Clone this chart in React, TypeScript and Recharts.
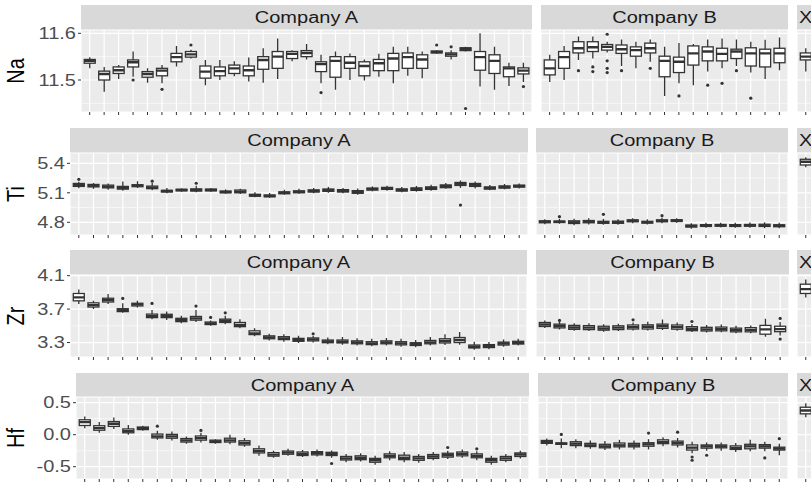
import React from 'react';
import { ComposedChart, Bar, XAxis, YAxis, CartesianGrid } from 'recharts';

type Stat = [number, number, number, number, number];
type Outs = Record<number, number[]>;

const FONT = "'Liberation Sans', Arial, Helvetica, sans-serif";

// ---------- categories ----------
const catsA = ['A01','A02','A03','A04','A05','A06','A07','A08','A09','A10','A11','A12','A13','A14','A15','A16','A17','A18','A19','A20','A21','A22','A23','A24','A25','A26','A27','A28','A29','A30','A31'];
const catsB = ['B01','B02','B03','B04','B05','B06','B07','B08','B09','B10','B11','B12','B13','B14','B15','B16','B17'];
const catsX = ['X'];
const facetNames = ['Company A', 'Company B', 'X'];

// ---------- Na ----------
const naA: Stat[] = [
  [11.525,11.536,11.541,11.544,11.549],[11.475,11.500,11.513,11.519,11.528],[11.502,11.514,11.521,11.528,11.532],
  [11.507,11.528,11.538,11.543,11.561],[11.494,11.506,11.513,11.518,11.525],[11.493,11.509,11.520,11.525,11.532],
  [11.529,11.539,11.549,11.557,11.573],[11.546,11.549,11.555,11.561,11.565],[11.489,11.504,11.518,11.530,11.543],
  [11.500,11.509,11.519,11.528,11.543],[11.508,11.514,11.525,11.532,11.540],[11.497,11.509,11.521,11.530,11.548],
  [11.494,11.523,11.543,11.550,11.568],[11.502,11.525,11.550,11.561,11.589],[11.540,11.546,11.556,11.561,11.564],
  [11.544,11.550,11.558,11.563,11.577],[11.493,11.518,11.534,11.539,11.554],[11.479,11.506,11.541,11.550,11.561],
  [11.500,11.525,11.537,11.550,11.557],[11.499,11.509,11.530,11.539,11.544],[11.507,11.520,11.536,11.544,11.556],
  [11.493,11.520,11.546,11.557,11.571],[11.509,11.525,11.549,11.558,11.571],[11.504,11.525,11.544,11.554,11.561],
  [11.556,11.558,11.560,11.562,11.564],[11.544,11.551,11.555,11.558,11.564],[11.561,11.563,11.567,11.569,11.571],
  [11.486,11.521,11.549,11.561,11.600],[11.479,11.514,11.541,11.554,11.571],[11.487,11.507,11.525,11.528,11.537],
  [11.496,11.513,11.520,11.526,11.537],
];
const naAOut: Outs = { 4: [11.500], 6: [11.480], 8: [11.575], 17: [11.473], 25: [11.575], 26: [11.571], 27: [11.439], 31: [11.486] };
const naB: Stat[] = [
  [11.496,11.511,11.525,11.543,11.554],[11.500,11.525,11.549,11.561,11.573],[11.543,11.558,11.568,11.582,11.593],
  [11.546,11.561,11.570,11.582,11.593],[11.559,11.564,11.571,11.576,11.582],[11.530,11.557,11.566,11.575,11.587],
  [11.525,11.551,11.564,11.571,11.582],[11.539,11.558,11.568,11.579,11.587],[11.466,11.507,11.541,11.551,11.571],
  [11.493,11.516,11.539,11.549,11.579],[11.489,11.532,11.557,11.573,11.577],[11.518,11.541,11.561,11.571,11.587],
  [11.525,11.541,11.556,11.568,11.589],[11.530,11.546,11.561,11.566,11.587],[11.516,11.530,11.557,11.569,11.582],
  [11.502,11.528,11.557,11.566,11.586],[11.521,11.537,11.557,11.568,11.591],
];
const naBOut: Outs = { 3: [11.520], 4: [11.528, 11.518], 5: [11.598, 11.541, 11.525, 11.516], 6: [11.520], 8: [11.525], 10: [11.466], 12: [11.489], 13: [11.493], 14: [11.520], 15: [11.461] };
const naX: Stat[] = [[11.518,11.543,11.550,11.558,11.568]];

// ---------- Ti ----------
const tiA: Stat[] = [
  [5.146,5.165,5.179,5.195,5.213],[5.140,5.160,5.172,5.185,5.200],[5.130,5.150,5.162,5.178,5.195],
  [5.120,5.138,5.148,5.165,5.215],[5.148,5.162,5.172,5.182,5.218],[5.125,5.142,5.152,5.168,5.200],
  [5.095,5.108,5.118,5.125,5.150],[5.112,5.120,5.128,5.136,5.145],[5.105,5.118,5.128,5.140,5.172],
  [5.110,5.120,5.128,5.138,5.150],[5.090,5.100,5.108,5.118,5.135],[5.088,5.100,5.111,5.128,5.140],
  [5.055,5.065,5.075,5.085,5.105],[5.050,5.060,5.067,5.078,5.098],[5.080,5.090,5.100,5.110,5.130],
  [5.090,5.100,5.110,5.120,5.140],[5.095,5.108,5.118,5.130,5.150],[5.100,5.115,5.128,5.138,5.160],
  [5.095,5.108,5.120,5.132,5.150],[5.080,5.095,5.108,5.122,5.145],[5.115,5.128,5.138,5.148,5.165],
  [5.120,5.135,5.145,5.155,5.172],[5.105,5.118,5.128,5.140,5.160],[5.112,5.125,5.138,5.150,5.170],
  [5.120,5.135,5.148,5.160,5.182],[5.140,5.152,5.168,5.180,5.200],[5.150,5.175,5.192,5.205,5.225],
  [5.145,5.165,5.180,5.195,5.215],[5.125,5.138,5.148,5.160,5.180],[5.135,5.148,5.158,5.170,5.190],
  [5.145,5.158,5.168,5.178,5.195],
];
const tiAOut: Outs = { 1: [5.237], 6: [5.218], 9: [5.197], 27: [4.975] };
const tiB: Stat[] = [
  [4.780,4.795,4.806,4.815,4.830],[4.785,4.798,4.806,4.812,4.835],[4.770,4.788,4.800,4.815,4.835],
  [4.778,4.795,4.806,4.818,4.840],[4.775,4.790,4.800,4.810,4.835],[4.775,4.790,4.800,4.812,4.830],
  [4.790,4.805,4.815,4.825,4.840],[4.778,4.792,4.800,4.810,4.830],[4.790,4.805,4.815,4.825,4.845],
  [4.795,4.808,4.818,4.826,4.840],[4.735,4.752,4.762,4.772,4.790],[4.745,4.758,4.768,4.776,4.795],
  [4.748,4.760,4.770,4.778,4.795],[4.745,4.758,4.768,4.776,4.795],[4.745,4.760,4.770,4.778,4.798],
  [4.740,4.758,4.768,4.780,4.800],[4.740,4.755,4.765,4.775,4.795],
];
const tiBOut: Outs = { 2: [4.857], 5: [4.881], 9: [4.867] };
const tiX: Stat[] = [[5.359,5.383,5.416,5.441,5.461]];

// ---------- Zr ----------
const zrA: Stat[] = [
  [3.760,3.799,3.840,3.887,3.935],[3.700,3.725,3.748,3.775,3.800],[3.760,3.785,3.807,3.830,3.880],
  [3.655,3.670,3.688,3.705,3.770],[3.720,3.738,3.756,3.770,3.800],[3.580,3.598,3.616,3.640,3.690],
  [3.570,3.598,3.616,3.638,3.670],[3.530,3.550,3.569,3.590,3.620],[3.545,3.568,3.589,3.612,3.690],
  [3.500,3.515,3.529,3.545,3.565],[3.520,3.540,3.560,3.580,3.620],[3.470,3.490,3.509,3.540,3.580],
  [3.375,3.395,3.410,3.440,3.470],[3.325,3.345,3.362,3.380,3.405],[3.310,3.335,3.350,3.370,3.400],
  [3.295,3.315,3.330,3.350,3.380],[3.300,3.320,3.338,3.355,3.380],[3.280,3.298,3.312,3.330,3.360],
  [3.275,3.295,3.310,3.330,3.365],[3.265,3.285,3.300,3.320,3.350],[3.255,3.275,3.290,3.310,3.345],
  [3.265,3.285,3.300,3.320,3.355],[3.250,3.272,3.290,3.310,3.345],[3.245,3.265,3.280,3.298,3.330],
  [3.265,3.285,3.302,3.325,3.365],[3.270,3.295,3.318,3.345,3.400],[3.275,3.300,3.330,3.360,3.425],
  [3.215,3.235,3.250,3.270,3.310],[3.220,3.240,3.258,3.275,3.305],[3.250,3.270,3.288,3.305,3.335],
  [3.265,3.282,3.298,3.315,3.345],
];
const zrAOut: Outs = { 4: [3.828], 6: [3.768], 9: [3.736], 10: [3.601], 11: [3.656], 17: [3.405] };
const zrB: Stat[] = [
  [3.475,3.492,3.515,3.540,3.565],[3.455,3.475,3.498,3.520,3.545],[3.440,3.458,3.480,3.505,3.530],
  [3.438,3.455,3.478,3.502,3.530],[3.430,3.448,3.468,3.495,3.520],[3.438,3.455,3.478,3.500,3.525],
  [3.445,3.462,3.485,3.510,3.540],[3.445,3.462,3.488,3.512,3.550],[3.450,3.470,3.495,3.520,3.575],
  [3.442,3.460,3.485,3.510,3.540],[3.425,3.442,3.465,3.490,3.520],[3.420,3.438,3.458,3.482,3.510],
  [3.422,3.440,3.460,3.485,3.515],[3.410,3.428,3.448,3.472,3.500],[3.410,3.428,3.452,3.478,3.505],
  [3.370,3.400,3.457,3.505,3.585],[3.385,3.430,3.461,3.495,3.545],
];
const zrBOut: Outs = { 2: [3.565], 7: [3.572], 11: [3.552], 17: [3.589, 3.342] };
const zrX: Stat[] = [[3.840,3.887,3.939,3.998,4.055]];

// ---------- Hf ----------
const hfA: Stat[] = [
  [0.102,0.144,0.196,0.233,0.284],[0.030,0.070,0.102,0.140,0.200],[0.090,0.130,0.171,0.205,0.270],
  [0.000,0.030,0.056,0.090,0.150],[0.060,0.080,0.102,0.120,0.140],[-0.080,-0.050,-0.026,0.010,0.060],
  [-0.090,-0.055,-0.026,0.005,0.050],[-0.140,-0.115,-0.089,-0.060,-0.030],[-0.120,-0.085,-0.053,-0.020,0.030],
  [-0.140,-0.122,-0.104,-0.085,-0.070],[-0.150,-0.115,-0.089,-0.055,0.000],[-0.190,-0.160,-0.130,-0.095,-0.050],
  [-0.330,-0.285,-0.255,-0.220,-0.170],[-0.360,-0.335,-0.311,-0.280,-0.250],[-0.330,-0.305,-0.280,-0.255,-0.220],
  [-0.350,-0.325,-0.300,-0.270,-0.240],[-0.340,-0.315,-0.290,-0.265,-0.230],[-0.360,-0.325,-0.300,-0.275,-0.245],
  [-0.430,-0.395,-0.370,-0.340,-0.300],[-0.420,-0.390,-0.360,-0.330,-0.290],[-0.470,-0.430,-0.400,-0.370,-0.330],
  [-0.400,-0.360,-0.330,-0.300,-0.260],[-0.430,-0.390,-0.360,-0.320,-0.270],[-0.440,-0.400,-0.370,-0.340,-0.300],
  [-0.400,-0.370,-0.340,-0.310,-0.270],[-0.380,-0.350,-0.320,-0.290,-0.250],[-0.360,-0.330,-0.300,-0.270,-0.230],
  [-0.400,-0.360,-0.330,-0.300,-0.260],[-0.470,-0.430,-0.400,-0.370,-0.330],[-0.430,-0.400,-0.370,-0.340,-0.300],
  [-0.370,-0.340,-0.310,-0.285,-0.250],
];
const hfAOut: Outs = { 6: [0.134], 9: [0.067], 18: [-0.450], 26: [-0.200], 28: [-0.220] };
const hfB: Stat[] = [
  [-0.170,-0.135,-0.114,-0.090,-0.060],[-0.210,-0.150,-0.140,-0.128,-0.060],[-0.210,-0.170,-0.140,-0.110,-0.070],
  [-0.220,-0.185,-0.166,-0.135,-0.090],[-0.240,-0.205,-0.182,-0.150,-0.100],[-0.230,-0.190,-0.166,-0.130,-0.080],
  [-0.230,-0.190,-0.166,-0.135,-0.090],[-0.230,-0.180,-0.150,-0.125,-0.070],[-0.180,-0.140,-0.114,-0.080,-0.040],
  [-0.200,-0.160,-0.130,-0.100,-0.050],[-0.290,-0.240,-0.202,-0.160,-0.110],[-0.250,-0.210,-0.182,-0.160,-0.120],
  [-0.250,-0.205,-0.182,-0.160,-0.120],[-0.270,-0.230,-0.208,-0.175,-0.130],[-0.260,-0.220,-0.182,-0.150,-0.080],
  [-0.260,-0.210,-0.182,-0.155,-0.110],[-0.320,-0.240,-0.217,-0.195,-0.140],
];
const hfBOut: Outs = { 2: [0.005], 8: [0.025], 10: [0.040], 11: [-0.348, -0.399], 12: [-0.321], 16: [-0.363], 17: [-0.062] };
const hfX: Stat[] = [[0.273,0.326,0.377,0.429,0.491]];

// ---------- axis ticks ----------
const naTicks = [11.5, 11.6];
const naMinor = [11.45, 11.55];
const tiTicks = [4.8, 5.1, 5.4];
const tiMinor = [4.95, 5.25];
const zrTicks = [3.3, 3.7, 4.1];
const zrMinor = [3.5, 3.9];
const hfTicks = [-0.5, 0.0, 0.5];
const hfMinor = [-0.25, 0.25];

type BoxRow = { cat: string; lo: number; q1: number; med: number; q3: number; hi: number; out: number[] };

function build(cats: string[], stats: Stat[], outs: Outs): BoxRow[] {
  return cats.map((c, i) => ({
    cat: c, lo: stats[i][0], q1: stats[i][1], med: stats[i][2], q3: stats[i][3], hi: stats[i][4],
    out: outs[i + 1] || [],
  }));
}

const rangeOf = (d: BoxRow) => [d.lo, d.hi];

const BoxShape = (props: any) => {
  const { x, y, width, height, payload } = props;
  if (!payload || x == null || y == null) return <g />;
  const top = Math.min(y, y + height);
  const bot = Math.max(y, y + height);
  const { lo, hi, q1, q3, med, out } = payload as BoxRow;
  const toY = (v: number) => top + ((hi - v) / (hi - lo)) * (bot - top);
  const cx = x + width / 2;
  return (
    <g>
      <line x1={cx} x2={cx} y1={top} y2={bot} stroke="#333333" strokeWidth={1.3} />
      <rect x={x} y={toY(q3)} width={width} height={Math.max(0.5, toY(q1) - toY(q3))} fill="#FFFFFF" stroke="#333333" strokeWidth={1.3} />
      <line x1={x} x2={x + width} y1={toY(med)} y2={toY(med)} stroke="#333333" strokeWidth={2.4} />
      {out.map((o, k) => (
        <circle key={k} cx={cx} cy={toY(o)} r={1.6} fill="#333333" />
      ))}
    </g>
  );
};

const EmptyTick = () => <g />;

const YTick = (props: any) => {
  const { x, y, payload } = props;
  return (
    <g transform={`translate(${x},${y})`}>
      <text transform="scale(1.25,1)" textAnchor="end" dy="0.36em" fontSize={16} fill="#4D4D4D" fontFamily={FONT}>
        {Number(payload.value).toFixed(1)}
      </text>
    </g>
  );
};

type PanelProps = {
  data: BoxRow[]; left: number; right: number; top: number; bottom: number;
  domain: [number, number]; ticks: number[]; minors: number[]; axisW?: number;
};

const TOPPAD = 10;
const XAXH = 5;

function Panel({ data, left, right, top, bottom, domain, ticks, minors, axisW = 0 }: PanelProps) {
  const w = right - left;
  const h = bottom - top;
  const step = w / (data.length + 0.2);
  const pad = step * 0.1;
  return (
    <div style={{ position: 'absolute', left: left - axisW, top: top - TOPPAD }}>
      <ComposedChart
        width={w + axisW}
        height={h + TOPPAD + XAXH}
        data={data}
        margin={{ top: TOPPAD, right: 0, bottom: 0, left: 0 }}
        barCategoryGap="12.5%"
      >
        <CartesianGrid fill="#EBEBEB" fillOpacity={1} stroke="#FFFFFF" strokeWidth={0.6} vertical={false} horizontalValues={minors} />
        <CartesianGrid stroke="#FFFFFF" strokeWidth={1.2} />
        <XAxis
          dataKey="cat" type="category" padding={{ left: pad, right: pad }} interval={0}
          tick={EmptyTick} tickLine={{ stroke: '#333333', strokeWidth: 1 }} tickSize={3}
          axisLine={false} height={XAXH}
        />
        <YAxis
          type="number" domain={domain} ticks={ticks} allowDataOverflow interval={0}
          hide={!axisW} width={axisW || 1} tick={YTick}
          tickLine={{ stroke: '#333333', strokeWidth: 1 }} tickSize={3} tickMargin={2} axisLine={false}
        />
        <Bar dataKey={rangeOf as any} shape={BoxShape} isAnimationActive={false} />
      </ComposedChart>
    </div>
  );
}

type RowDef = {
  title: string; stripTop: number; top: number; bottom: number;
  aL: number; aR: number; bL: number; bR: number; xL: number; xR: number;
  domain: [number, number]; ticks: number[]; minors: number[];
  a: BoxRow[]; b: BoxRow[]; x: BoxRow[];
};

const rows: RowDef[] = [
  { title: 'Na', stripTop: 5, top: 30, bottom: 112, aL: 81, aR: 532, bL: 541, bR: 788, xL: 797, xR: 814.5,
    domain: [11.4315, 11.6071], ticks: naTicks, minors: naMinor,
    a: build(catsA, naA, naAOut), b: build(catsB, naB, naBOut), x: build(catsX, naX, {}) },
  { title: 'Ti', stripTop: 128, top: 153, bottom: 235, aL: 70, aR: 528, bL: 536, bR: 788, xL: 797, xR: 814.5,
    domain: [4.6708, 5.5048], ticks: tiTicks, minors: tiMinor,
    a: build(catsA, tiA, tiAOut), b: build(catsB, tiB, tiBOut), x: build(catsX, tiX, {}) },
  { title: 'Zr', stripTop: 250, top: 275, bottom: 357, aL: 70, aR: 527, bL: 536, bR: 789, xL: 797, xR: 814.5,
    domain: [3.127, 4.108], ticks: zrTicks, minors: zrMinor,
    a: build(catsA, zrA, zrAOut), b: build(catsB, zrB, zrBOut), x: build(catsX, zrX, {}) },
  { title: 'Hf', stripTop: 373, top: 397, bottom: 479, aL: 76, aR: 529, bL: 538, bR: 788, xL: 797, xR: 814.5,
    domain: [-0.692, 0.589], ticks: hfTicks, minors: hfMinor,
    a: build(catsA, hfA, hfAOut), b: build(catsB, hfB, hfBOut), x: build(catsX, hfX, {}) },
];

export default function App() {
  return (
    <div style={{ position: 'absolute', left: 0, top: 0, width: 811, height: 482, overflow: 'hidden', background: '#FFFFFF', fontFamily: FONT }}>
      <svg width={811} height={482} style={{ position: 'absolute', left: 0, top: 0 }}>
        {rows.map((r) => {
          const spans: [number, number][] = [[r.aL, r.aR], [r.bL, r.bR], [r.xL, r.xR]];
          const cy = (r.top + r.bottom) / 2;
          return (
            <g key={r.title}>
              {spans.map(([l, rr], k) => (
                <g key={k}>
                  <rect x={l} y={r.stripTop} width={rr - l} height={r.top - r.stripTop} fill="#D9D9D9" />
                  <g transform={`translate(${(l + rr) / 2},${(r.stripTop + r.top) / 2})`}>
                    <text transform="scale(1.25,1)" textAnchor="middle" dy="0.36em" fontSize={16} fill="#1A1A1A" fontFamily={FONT}>
                      {facetNames[k]}
                    </text>
                  </g>
                </g>
              ))}
              <g transform={`translate(15.5,${cy}) scale(1.15,1) rotate(-90)`}>
                <text textAnchor="middle" dy="0.36em" fontSize={20} fill="#000000" fontFamily={FONT}>{r.title}</text>
              </g>
            </g>
          );
        })}
      </svg>
      {rows.map((r) => (
        <React.Fragment key={r.title}>
          <Panel data={r.a} left={r.aL} right={r.aR} top={r.top} bottom={r.bottom} domain={r.domain} ticks={r.ticks} minors={r.minors} axisW={r.aL} />
          <Panel data={r.b} left={r.bL} right={r.bR} top={r.top} bottom={r.bottom} domain={r.domain} ticks={r.ticks} minors={r.minors} />
          <Panel data={r.x} left={r.xL} right={r.xR} top={r.top} bottom={r.bottom} domain={r.domain} ticks={r.ticks} minors={r.minors} />
        </React.Fragment>
      ))}
    </div>
  );
}
